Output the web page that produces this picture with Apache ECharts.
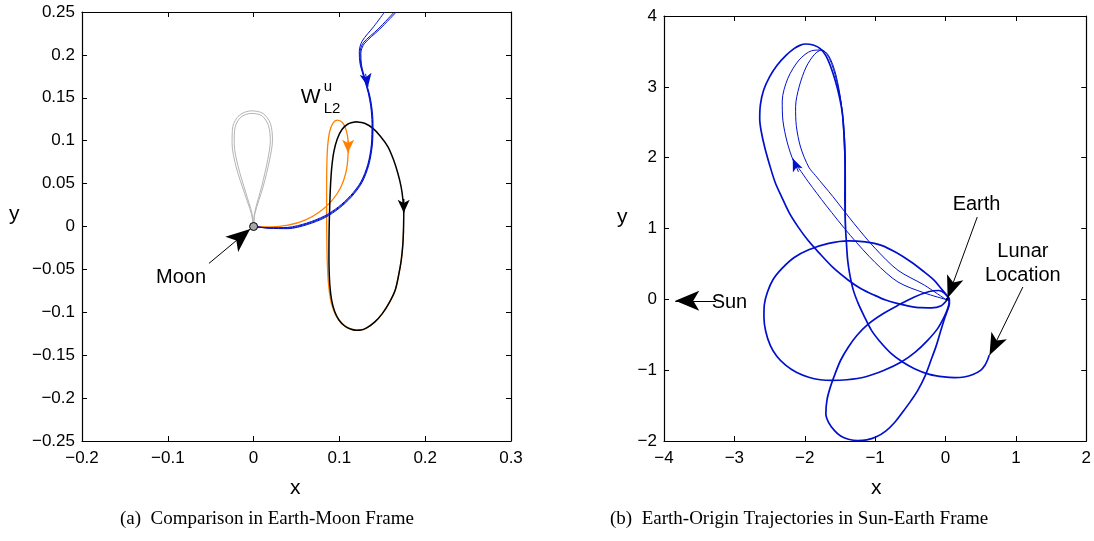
<!DOCTYPE html>
<html>
<head>
<meta charset="utf-8">
<script src="https://cdn.jsdelivr.net/npm/echarts@6/dist/echarts.min.js"></script>
<style>
  html, body { margin: 0; padding: 0; background: #fff; }
  #main { width: 1094px; height: 541px; }
</style>
</head>
<body>
<div id="main"></div>
<script>
// ---------- (a) Earth-Moon frame ----------
const moonLoopOuter = [[0,0],[0.0015,0.015],[0.011,0.046],[0.0186,0.0774],[0.022,0.1007],[0.0196,0.1201],[0.011,0.1318],[-0.0027,0.1348],[-0.0163,0.1299],[-0.0243,0.1163],[-0.0251,0.0968],[-0.0204,0.0696],[-0.0105,0.0385],[-0.0027,0.0152],[0,0]];
const moonLoopInner = [[0,0],[0.0012,0.016],[0.0095,0.047],[0.0165,0.078],[0.0195,0.1],[0.0172,0.118],[0.0095,0.1292],[-0.0027,0.1318],[-0.0148,0.1275],[-0.0218,0.1148],[-0.0226,0.0962],[-0.018,0.07],[-0.009,0.039],[-0.002,0.0155],[0,0]];
const l2Orbit = [[0.1197,0.1221],[0.13,0.12],[0.1391,0.1143],[0.148,0.105],[0.1566,0.0929],[0.163,0.078],[0.1682,0.0618],[0.172,0.046],[0.1741,0.0307],[0.175,0.015],[0.1748,0],[0.174,-0.02],[0.1721,-0.0393],[0.169,-0.057],[0.165,-0.0743],[0.158,-0.089],[0.15,-0.1015],[0.141,-0.1115],[0.1313,-0.1185],[0.125,-0.1207],[0.1197,-0.1209],[0.113,-0.1195],[0.1061,-0.116],[0.0995,-0.109],[0.0945,-0.099],[0.091,-0.086],[0.089,-0.07],[0.088,-0.05],[0.0878,-0.03],[0.088,-0.005],[0.0886,0.02],[0.0895,0.045],[0.091,0.068],[0.0935,0.087],[0.0975,0.102],[0.103,0.113],[0.11,0.1195],[0.1197,0.1221]];
const unstableManifold = [[0.1748,-0.004],[0.174,-0.02],[0.1721,-0.0393],[0.169,-0.057],[0.165,-0.0743],[0.158,-0.089],[0.15,-0.1015],[0.141,-0.1115],[0.1313,-0.1185],[0.125,-0.1207],[0.1197,-0.1209],[0.113,-0.1195],[0.106,-0.1155],[0.0985,-0.108],[0.093,-0.097],[0.0895,-0.084],[0.0872,-0.066],[0.086,-0.045],[0.0854,-0.02],[0.0851,0.01],[0.0851,0.04],[0.0853,0.068],[0.0862,0.092],[0.0885,0.11],[0.0925,0.1205],[0.0975,0.124],[0.1035,0.1212],[0.1082,0.1115],[0.1102,0.097],[0.11,0.0813],[0.1075,0.0625],[0.1015,0.0455],[0.0915,0.0305],[0.0775,0.0175],[0.06,0.0075],[0.04,0.0015],[0.02,-0.0005],[0,0]];
const transferA = [[0.1527,0.25],[0.14,0.233],[0.1265,0.216],[0.1232,0.204],[0.124,0.19],[0.129,0.172],[0.1335,0.156],[0.1365,0.14],[0.138,0.12],[0.1372,0.095],[0.133,0.072],[0.125,0.052],[0.113,0.036],[0.099,0.023],[0.083,0.0125],[0.062,0.004],[0.04,-0.001],[0.018,-0.0015],[0,0]];
const transferB = [[0.1663,0.25],[0.147,0.23],[0.129,0.213],[0.125,0.202],[0.1258,0.188],[0.1305,0.17],[0.135,0.1545],[0.1378,0.139],[0.1392,0.12],[0.1384,0.095],[0.1342,0.0715],[0.1262,0.051],[0.114,0.0345],[0.0998,0.0213],[0.0835,0.0105],[0.0625,0.0022],[0.04,-0.0025],[0.018,-0.002],[0,0]];
const transferC = [[0.164,0.25],[0.145,0.23],[0.1278,0.214],[0.1241,0.203],[0.1249,0.189],[0.1297,0.171],[0.1342,0.1552],[0.1371,0.1395],[0.1386,0.12],[0.1378,0.095],[0.1336,0.0718],[0.1256,0.0515],[0.1135,0.0352],[0.0994,0.0222],[0.0832,0.0115],[0.0622,0.0031],[0.04,-0.0018],[0.018,-0.0018],[0,0]];
const moonPos = [[0, 0]];
const moonPointer = [[-0.052,-0.043],[-0.004,-0.003]];
const l2OrbitArrow = [[0.1749,0.032],[0.1750,0.016]];
const manifoldArrow = [[0.1102,0.1],[0.11,0.086]];
const transferArrow = [[0.1305,0.178],[0.1333,0.163]];

// ---------- (b) Sun-Earth frame ----------
const outerLobe = [[0.02,-0.01],[-0.06,-0.09],[-0.2,-0.12],[-0.347,-0.118],[-0.52,-0.095],[-0.676,-0.061],[-0.85,-0.01],[-1.005,0.056],[-1.2,0.15],[-1.38,0.27],[-1.6,0.45],[-1.8,0.66],[-1.96,0.84],[-2.1,1.03],[-2.22,1.22],[-2.33,1.45],[-2.42,1.65],[-2.5,1.9],[-2.57,2.15],[-2.62,2.38],[-2.64,2.55],[-2.63,2.75],[-2.585,2.951],[-2.5,3.14],[-2.393,3.304],[-2.27,3.44],[-2.153,3.539],[-2.07,3.585],[-1.99,3.605],[-1.88,3.59],[-1.78,3.54],[-1.7,3.44],[-1.63,3.28],[-1.568,3.092],[-1.51,2.87],[-1.465,2.621],[-1.44,2.3],[-1.427,1.915],[-1.43,1.5],[-1.425,1.1],[-1.41,0.83],[-1.39,0.55],[-1.36,0.35],[-1.31,0.13],[-1.239,-0.061],[-1.15,-0.25],[-1.052,-0.438],[-0.92,-0.61],[-0.77,-0.767],[-0.61,-0.885],[-0.441,-0.979],[-0.23,-1.06],[-0.019,-1.096],[0.13,-1.105],[0.263,-1.096],[0.39,-1.06],[0.498,-1.002],[0.56,-0.93],[0.6,-0.85],[0.62,-0.79]];
const middleLobe = [[0,0],[-0.3,0.09],[-0.676,0.245],[-1,0.52],[-1.35,0.9],[-1.7,1.33],[-1.95,1.66],[-2.085,1.85],[-2.155,1.94],[-2.25,2.22],[-2.31,2.52],[-2.32,2.8],[-2.24,3.12],[-2.08,3.38],[-1.9,3.51],[-1.76,3.52],[-1.65,3.4],[-1.55,3.1],[-1.47,2.68],[-1.43,2.2],[-1.42,1.6],[-1.42,1.0]];
const innerLobe = [[0,0],[-0.3,0.2],[-0.676,0.41],[-1,0.72],[-1.3,1.07],[-1.6,1.45],[-1.85,1.75],[-1.944,1.868],[-2.06,2.15],[-2.12,2.45],[-2.13,2.72],[-2.08,3.0],[-1.98,3.28],[-1.86,3.46],[-1.76,3.52],[-1.66,3.44],[-1.56,3.18],[-1.48,2.75],[-1.44,2.2],[-1.425,1.6],[-1.42,1.0]];
const leftLoop = [[0.04,0.03],[-0.06,0.15],[-0.16,0.268],[-0.32,0.4],[-0.488,0.527],[-0.7,0.66],[-0.911,0.762],[-1.14,0.81],[-1.38,0.825],[-1.66,0.79],[-1.944,0.7],[-2.15,0.59],[-2.319,0.44],[-2.45,0.28],[-2.531,0.1],[-2.575,-0.08],[-2.58,-0.25],[-2.555,-0.45],[-2.49,-0.65],[-2.4,-0.8],[-2.272,-0.93],[-2.12,-1.03],[-1.944,-1.1],[-1.78,-1.135],[-1.615,-1.145],[-1.4,-1.135],[-1.146,-1.096],[-0.88,-1.005],[-0.629,-0.885],[-0.43,-0.745],[-0.254,-0.579],[-0.11,-0.41],[-0.019,-0.249],[0.035,-0.12],[0.052,-0.038],[0.04,0.03]];
const bottomLoop = [[0.04,0.03],[-0.03,0.1],[-0.1,0.125],[-0.23,0.11],[-0.45,0.03],[-0.676,-0.085],[-0.9,-0.21],[-1.099,-0.35],[-1.26,-0.51],[-1.38,-0.673],[-1.49,-0.86],[-1.568,-1.049],[-1.64,-1.25],[-1.685,-1.426],[-1.7,-1.614],[-1.66,-1.74],[-1.58,-1.85],[-1.49,-1.93],[-1.38,-1.975],[-1.25,-1.995],[-1.12,-1.985],[-0.99,-1.945],[-0.85,-1.86],[-0.72,-1.735],[-0.6,-1.58],[-0.49,-1.43],[-0.394,-1.285],[-0.29,-1.08],[-0.207,-0.861],[-0.13,-0.65],[-0.066,-0.438],[-0.01,-0.26],[0.028,-0.155],[0.055,-0.06],[0.055,0],[0.04,0.03]];
const earthPos = [[0.02, 0.0]];
const earthPointer = [[0.451,1.162],[0.03,0.02]];
const lunarPointer = [[1.099,0.174],[0.625,-0.79]];
const sunPointer = [[-3.26,-0.02],[-3.84,-0.02]];
const lobeArrow = [[-2.09,1.8],[-2.17,1.99]];

// text annotations: [x, y, text]
const labelsA = [[-0.0845,-0.059,'Moon']];
const labelsB = [[0.441,1.341,'Earth'],[1.099,0.682,'Lunar'],[1.099,0.339,'Location'],[-3.07,-0.04,'Sun']];

const BLUE = '#0010cc';
const FONT = 'Liberation Sans, Arial, Helvetica, sans-serif';
const SERIF = 'Liberation Serif, Times New Roman, serif';

const fmt = v => {
  const s = String(+Math.abs(v).toFixed(3));
  return v < 0 ? '\u2212' + s : s;
};

function xAx(grid, pos, min, max, step, labels) {
  return {
    type: 'value', gridIndex: grid, position: pos, min, max, interval: step,
    splitLine: { show: false },
    axisLine: { show: true, onZero: false, lineStyle: { color: '#000', width: 1.2 } },
    axisTick: { show: true, inside: true, length: 5, lineStyle: { color: '#000', width: 1 } },
    axisLabel: { show: labels, formatter: fmt, color: '#000', fontSize: 17, fontFamily: FONT, margin: 9, showMinLabel: true, showMaxLabel: true }
  };
}
function yAx(grid, pos, min, max, step, labels) {
  return {
    type: 'value', gridIndex: grid, position: pos, min, max, interval: step,
    splitLine: { show: false },
    axisLine: { show: true, onZero: false, lineStyle: { color: '#000', width: 1.2 } },
    axisTick: { show: true, inside: true, length: 5, lineStyle: { color: '#000', width: 1 } },
    axisLabel: { show: labels, formatter: fmt, color: '#000', fontSize: 17, fontFamily: FONT, margin: 7, showMinLabel: true, showMaxLabel: true }
  };
}

function curve(data, color, width, xi, yi, arrow, arrowSize) {
  const s = {
    type: 'line', data, xAxisIndex: xi, yAxisIndex: yi,
    showSymbol: false, symbol: 'none', smooth: 0.3, silent: true,
    lineStyle: { color, width }, z: 3
  };
  if (arrow) {
    s.markLine = {
      silent: true, animation: false, symbol: ['none', 'arrow'], symbolSize: arrowSize,
      label: { show: false }, lineStyle: { type: 'solid', color, width },
      data: [[{ coord: arrow[0] }, { coord: arrow[1] }]]
    };
  }
  return s;
}

function pointer(seg, size) {
  return [{ coord: seg[0], symbolSize: size }, { coord: seg[1], symbolSize: size }];
}

// scatter default opacity is 0.8, so force 1 for text and markers
function textSeries(items, xi, yi, size) {
  return {
    type: 'scatter', xAxisIndex: xi, yAxisIndex: yi, silent: true, z: 10,
    symbolSize: 1, itemStyle: { color: 'rgba(0,0,0,0)', opacity: 1 },
    data: items.map(d => ({ value: [d[0], d[1]], name: d[2] })),
    label: { show: true, position: 'inside', formatter: p => p.name, color: '#000', opacity: 1, textBorderWidth: 0, fontSize: size, fontFamily: FONT }
  };
}

const chart = echarts.init(document.getElementById('main'), null, { renderer: 'canvas' });

const option = {
  animation: false,
  backgroundColor: '#fff',
  grid: [
    { left: 82, top: 12, width: 429, height: 429 },
    { left: 664, top: 16, width: 426, height: 425 }
  ],
  xAxis: [
    xAx(0, 'bottom', -0.2, 0.3, 0.1, true),
    xAx(0, 'top', -0.2, 0.3, 0.1, false),
    xAx(1, 'bottom', -4, 2, 1, true),
    xAx(1, 'top', -4, 2, 1, false)
  ],
  yAxis: [
    yAx(0, 'left', -0.25, 0.25, 0.05, true),
    yAx(0, 'right', -0.25, 0.25, 0.05, false),
    yAx(1, 'left', -2, 4, 1, true),
    yAx(1, 'right', -2, 4, 1, false)
  ],
  series: [
    curve(moonLoopOuter, '#b4b4b4', 1, 0, 0),
    curve(moonLoopInner, '#b4b4b4', 1, 0, 0),
    curve(unstableManifold, '#ff8000', 1.3, 0, 0, manifoldArrow, [9, 13]),
    curve(l2Orbit, '#000', 1.5, 0, 0, l2OrbitArrow, [9, 13]),
    curve(transferA, BLUE, 1, 0, 0, transferArrow, [9, 13]),
    curve(transferB, BLUE, 1, 0, 0),
    curve(transferC, BLUE, 1, 0, 0),
    {
      type: 'scatter', xAxisIndex: 0, yAxisIndex: 0, data: moonPos, silent: true, z: 6,
      symbolSize: 8, itemStyle: { color: '#a8a8a8', borderColor: '#000', borderWidth: 1, opacity: 1 },
      markLine: {
        silent: true, animation: false, symbol: ['none', 'arrow'], symbolSize: [15, 24],
        label: { show: false }, lineStyle: { type: 'solid', color: '#000', width: 1, opacity: 1 },
        data: [pointer(moonPointer, [15, 24])]
      }
    },
    textSeries(labelsA, 0, 0, 20),
    {
      type: 'scatter', xAxisIndex: 0, yAxisIndex: 0, silent: true, z: 10,
      symbolSize: 1, itemStyle: { color: 'rgba(0,0,0,0)', opacity: 1 },
      data: [
        { value: [0.0665, 0.151], name: 'W', label: { fontSize: 21 } },
        { value: [0.0866, 0.1625], name: 'u', label: { fontSize: 15 } },
        { value: [0.0915, 0.1376], name: 'L2', label: { fontSize: 15 } }
      ],
      label: { show: true, position: 'inside', formatter: p => p.name, color: '#000', opacity: 1, textBorderWidth: 0, fontFamily: FONT }
    },

    curve(leftLoop, BLUE, 1.7, 2, 2),
    curve(bottomLoop, BLUE, 1.7, 2, 2),
    curve(innerLobe, BLUE, 1, 2, 2),
    curve(middleLobe, BLUE, 1, 2, 2, lobeArrow, [8, 13]),
    curve(outerLobe, BLUE, 1.7, 2, 2),
    {
      type: 'scatter', xAxisIndex: 2, yAxisIndex: 2, data: earthPos, silent: true, z: 6,
      symbolSize: 3, itemStyle: { color: '#000', opacity: 1 },
      markLine: {
        silent: true, animation: false, symbol: ['none', 'arrow'], symbolSize: [13, 22],
        label: { show: false }, lineStyle: { type: 'solid', color: '#000', width: 1, opacity: 1 },
        data: [pointer(earthPointer, [13, 22]), pointer(lunarPointer, [13, 22]), pointer(sunPointer, [15, 24])]
      }
    },
    textSeries(labelsB, 2, 2, 20)
  ],
  graphic: [
    { type: 'text', left: 9, top: 204, style: { text: 'y', fontSize: 21, fontFamily: FONT, fill: '#000' } },
    { type: 'text', left: 290, top: 478, style: { text: 'x', fontSize: 21, fontFamily: FONT, fill: '#000' } },
    { type: 'text', left: 617, top: 207, style: { text: 'y', fontSize: 21, fontFamily: FONT, fill: '#000' } },
    { type: 'text', left: 871, top: 478, style: { text: 'x', fontSize: 21, fontFamily: FONT, fill: '#000' } },
    { type: 'text', left: 120, top: 510, style: { text: '(a)  Comparison in Earth-Moon Frame', fontSize: 19, fontFamily: SERIF, fill: '#000' } },
    { type: 'text', left: 610, top: 510, style: { text: '(b)  Earth-Origin Trajectories in Sun-Earth Frame', fontSize: 19, fontFamily: SERIF, fill: '#000' } }
  ]
};

chart.setOption(option);
</script>
</body>
</html>
